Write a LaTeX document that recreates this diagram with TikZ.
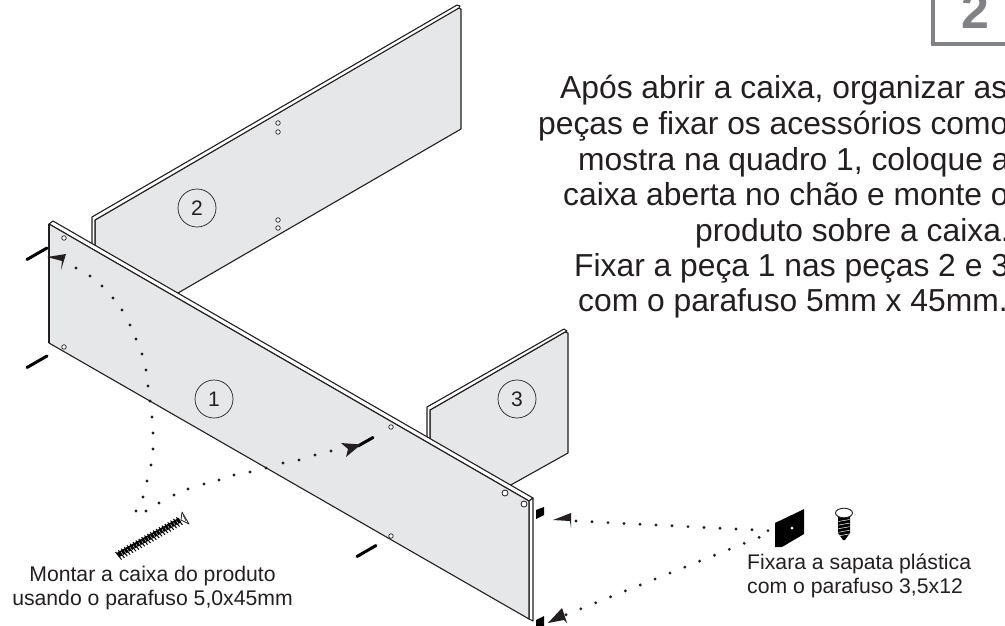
\documentclass[tikz,border=0pt]{standalone}
\usepackage{fontspec}
\setmainfont{Liberation Sans}
\definecolor{face}{HTML}{E6E7E8}
\definecolor{framegray}{HTML}{808285}
\definecolor{ink}{HTML}{231F20}
\tikzset{
  panelface/.style={fill=face,draw=ink,line width=1.1pt,line join=round},
  panelstrip/.style={fill=white,draw=ink,line width=1.1pt,line join=round},
  hole/.style={circle,draw=ink,fill=white,line width=.7pt,inner sep=0pt,minimum size=4.5pt},
  bighole/.style={circle,draw=ink,fill=white,line width=.8pt,inner sep=0pt,minimum size=6pt},
  numcircle/.style={circle,draw=ink,fill=none,line width=.7pt,inner sep=0pt,minimum size=38pt,font=\fontsize{21}{21}\selectfont,text=ink},
  peg/.style={draw=black,line width=3pt,line cap=round},
  headtip/.style={fill=ink,draw=none},
  dotmark/.style={fill=ink,draw=none},
  maintext/.style={anchor=base west,inner sep=0pt,text=ink,font=\fontsize{31.8}{36}\selectfont},
  captext/.style={anchor=base,inner sep=0pt,text=ink,font=\fontsize{21.2}{24}\selectfont}
}
\begin{document}
\begin{tikzpicture}[x=1pt,y=-1pt]
\useasboundingbox (0,0) rectangle (1005,625);
\clip (0,0) rectangle (1005,625);
\fill[white] (0,0) rectangle (1005,625);

% frame with number
\draw[framegray,line width=4pt] (933,-5) -- (933,44) -- (1010,44);
\node[anchor=base,inner sep=0pt,text=framegray,font=\fontsize{50}{50}\selectfont\bfseries] (bignum) at (975,28) {2};

% panel 2
\draw[panelface] (95,220) -- (458,8) -- (461,9) -- (461,129) -- (178,293) -- (95,280) -- cycle;
\draw[panelstrip] (92,217) -- (457,5) -- (460,6) -- (459,8) -- (95,220) -- (95,250) -- (92,250) -- cycle;
% panel 3
\draw[panelface] (430,410) -- (565,332) -- (568,333) -- (568,453) -- (509,486) -- (430,445) -- cycle;
\draw[panelstrip] (427,407) -- (564,329) -- (567,331) -- (565,332) -- (430,410) -- (430,445) -- (427,445) -- cycle;
% panel 1
\draw[panelstrip] (49,224) -- (53,221) -- (533,498) -- (529,501) -- cycle;
\draw[panelstrip] (529,501) -- (533,498) -- (533,621) -- (529,619) -- cycle;
\draw[panelface] (49,224) -- (529,501) -- (529,619) -- (49,343) -- cycle;
\draw[ink,line width=1.6pt] (49,224) -- (49,343);

% holes
\foreach \hx/\hy in {278/123,278/132,278/220,278/228,64/238,64/347,391/427,391/536}
  \node[hole] at (\hx,\hy) {};
\foreach \hx/\hy in {505/493,524/504}
  \node[bighole] at (\hx,\hy) {};

% number circles
\node[numcircle] (n1) at (214,399) {1};
\node[numcircle] (n2) at (197,208) {2};
\node[numcircle] (n3) at (517,399) {3};

% pegs
\draw[peg] (27,259.5) -- (47,248);
\draw[peg] (27,367.5) -- (47,356);
\draw[peg] (358,446) -- (373,437.5);
\draw[peg] (357,556.5) -- (376,545.5);

% dotted paths
\foreach \dx/\dy in {76/268,90/276,102/286,113/298,122/310,130/325,136/339,142/354,146/370,148/386,150/401,152/417,153/433,153/449,151/465,147/481,143/497,136/511,
  146/511,159/503,174/495,188/489,204/484,219/480,234/475,250/472,266/468,283/463,299/460,315/455,331/451}
  \fill[dotmark] (\dx,\dy) circle (1.6pt);
\foreach \i in {0,...,13}
  \fill[dotmark] ({576+16*\i},{521+0.8*\i}) circle (1.6pt);
\foreach \i in {0,...,13}
  \fill[dotmark] ({566+14.85*\i},{614.7-5.95*\i}) circle (1.6pt);

% arrowheads
\fill[headtip] (47,257) -- (66,254) -- (61,270) -- (62,261) -- cycle;
\fill[headtip] (341,443) -- (361,444.5) -- (346,457) -- (348,449) -- cycle;
\fill[headtip] (553,520) -- (571,513) -- (571,528) -- (570,521) -- cycle;
\fill[headtip] (548,623) -- (562,608) -- (567,623) -- (564,620) -- cycle;

% right pegs
\fill[black] (536,510) -- (544,507) -- (544,515) -- (536,519) -- cycle;
\fill[black] (536,620) -- (544,616) -- (544,626) -- (536,626) -- cycle;

% long screw
\draw[black,line width=5pt] (118,555) -- (180,520);
\foreach \i in {0,...,21} {
  \draw[black,line width=1pt] ({115.5+2.9*\i},{552-1.65*\i}) -- ({121.5+2.9*\i},{559.5-1.65*\i});
}
\foreach \i in {1,...,20} {
  \draw[white,line width=.35pt] ({118.5+2.9*\i},{553.8-1.65*\i}) -- ({120+2.9*\i},{556.5-1.65*\i});
}
\draw[fill=white,draw=ink,line width=.8pt,line join=round] (181,520) -- (182,512) -- (189,524) -- cycle;
\draw[ink,line width=.5pt] (183,515) -- (186,521);

% plastic foot
\fill[black] (775,523) -- (798,512) -- (804,509) -- (804,534) -- (782,547) -- (775,547) -- cycle;
\fill[white] (792,528) circle (1.5pt);

% small screw
\fill[black] (838,516) -- (850,516) -- (850,533) -- (845,540) -- (843,540) -- (838,533) -- cycle;
\foreach \i in {0,...,4}
  \draw[white,line width=.5pt] (838.5,{521.5+3.6*\i}) -- (849.5,{519.5+3.6*\i});
\draw[fill=white,draw=ink,line width=.9pt] (844,513) ellipse (8.5pt and 4.8pt);

% texts
\node[maintext] (t1) at (560,98) {Após abrir a caixa, organizar as};
\node[maintext] (t2) at (538,134) {peças e fixar os acessórios como};
\node[maintext] (t3) at (578,170) {mostra na quadro 1, coloque a};
\node[maintext] (t4) at (563,205) {caixa aberta no chão e monte o};
\node[maintext] (t5) at (695,241) {produto sobre a caixa.};
\node[maintext] (t6) at (574,276) {Fixar a peça 1 nas peças 2 e 3};
\node[maintext] (t7) at (578,311) {com o parafuso 5mm x 45mm.};
\node[captext] (c1a) at (152.5,581) {Montar a caixa do produto};
\node[captext] (c1b) at (152.5,605) {usando o parafuso 5,0x45mm};
\node[captext,anchor=base west] (c2a) at (747,569) {Fixara a sapata plástica};
\node[captext,anchor=base west] (c2b) at (747,593) {com o parafuso 3,5x12};
\end{tikzpicture}
\end{document}
